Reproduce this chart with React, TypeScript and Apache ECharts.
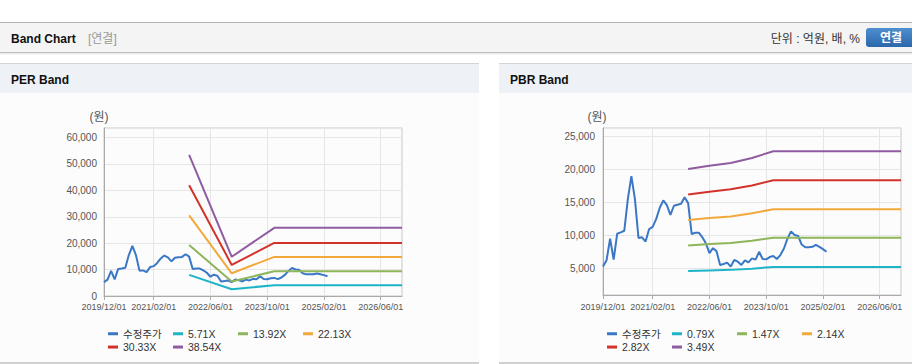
import React, { useEffect, useRef } from "react";
import * as echarts from "echarts";

// ---- data ----
const MONTHS: string[] = (() => {
  const out: string[] = [];
  for (let i = 0; i <= 84; i++) {
    const t = 2019 * 12 + 11 + i;
    const y = Math.floor(t / 12);
    const m = (t % 12) + 1;
    out.push(`${y}/${String(m).padStart(2, "0")}/01`);
  }
  return out;
})();

const X_TICK_LABELS = ["2019/12/01", "2021/02/01", "2022/06/01", "2023/10/01", "2025/02/01", "2026/06/01"];

// 수정주가, monthly from 2019/12
const PRICE = [
  5250, 6200, 9500, 6300, 10250, 10450, 10700, 15500, 19000, 15500,
  9600, 9700, 9050, 10950, 11300, 12500, 14200, 15300, 14600, 13100,
  14500, 14650, 14800, 15800, 14900, 10200, 10400, 10400, 9700, 8800,
  7300, 8050, 7600, 5500, 5650, 5850, 5250, 6250, 6000, 5500,
  6200, 5900, 6500, 6300, 7500, 6400, 6350, 6700, 6850, 6400,
  7000, 8000, 9500, 10600, 10050, 9900, 8600, 8200, 8200, 8250,
  8550, 8250, 7900, 7500,
];

const PER_NAMES = ["5.71X", "13.92X", "22.13X", "30.33X", "38.54X"];
const PER_MONTHS = ["2021/12/01", "2022/12/01", "2023/12/01", "2026/12/01"];
const PER_571 = [8000, 2550, 4100, 4100];
const PER_1392 = [19300, 5500, 9350, 9350];
const PER_2213 = [30500, 8600, 14800, 14800];
const PER_3033 = [41900, 11750, 20100, 20100];
const PER_3854 = [53400, 14850, 25800, 25800];

const PBR_NAMES = ["0.79X", "1.47X", "2.14X", "2.82X", "3.49X"];
const PBR_MONTHS = ["2021/12/01", "2022/06/01", "2022/12/01", "2023/06/01", "2023/12/01", "2026/12/01"];
const PBR_079 = [4570, 4660, 4750, 4930, 5200, 5200];
const PBR_147 = [8450, 8680, 8850, 9170, 9650, 9650];
const PBR_214 = [12340, 12630, 12880, 13350, 13980, 13980];
const PBR_282 = [16200, 16640, 17000, 17590, 18380, 18380];
const PBR_349 = [20090, 20590, 21000, 21770, 22780, 22780];

const PRICE_NAME = "수정주가";
const COLORS = ["#3a78c6", "#1db4c8", "#8db55a", "#f2a93c", "#d3322b", "#8f5ba1"];

const FONT = "'Liberation Sans', Arial, 'Noto Sans CJK KR', sans-serif";

const isTick = (_i: number, v: string) => X_TICK_LABELS.includes(v);
const fmt = (v: number) => Math.round(v).toLocaleString("en-US");

function xAxis(gridIndex: number, margin: number) {
  return {
    type: "category",
    gridIndex,
    data: MONTHS,
    boundaryGap: false,
    axisLine: { show: true, lineStyle: { color: "#aaaaaa" } },
    axisTick: { show: true, interval: isTick, length: 4, lineStyle: { color: "#aaaaaa" } },
    axisLabel: { interval: isTick, fontSize: 9, color: "#555", margin, fontFamily: FONT },
    splitLine: { show: true, interval: isTick, lineStyle: { color: "#e6e6e6" } },
  };
}

function bandSeries(names: string[], months: string[], values: number[][], axisIndex: number) {
  return names.map((n, i) => ({
    type: "line",
    name: n,
    xAxisIndex: axisIndex,
    yAxisIndex: axisIndex,
    data: months.map((m, j) => [m, values[i][j]]),
    showSymbol: false,
    symbol: "none",
    color: COLORS[i + 1],
    lineStyle: { width: 2, color: COLORS[i + 1] },
  }));
}

function legends(names: string[], left0: number, top0: number) {
  return names.map((n, i) => ({
    data: [n],
    left: left0 + (i % 4) * 65,
    top: top0 + Math.floor(i / 4) * 13.3,
    padding: 0,
    itemGap: 0,
    itemWidth: 10,
    itemHeight: 3,
    icon: "rect",
    textStyle: { fontSize: 10.5, color: "#333", fontFamily: FONT },
  }));
}

export default function App() {
  const ref = useRef<HTMLDivElement>(null);

  useEffect(() => {
    if (!ref.current) return;
    const chart = echarts.init(ref.current, null, { renderer: "svg" });
    const option: any = {
      animation: false,
      backgroundColor: "transparent",
      textStyle: { fontFamily: FONT },
      grid: [
        { left: 104, top: 128, width: 298, height: 168, show: true, borderColor: "#c8c8c8", borderWidth: 1 },
        { left: 603, top: 128, width: 298, height: 167, show: true, borderColor: "#c8c8c8", borderWidth: 1 },
      ],
      xAxis: [xAxis(0, 6), xAxis(1, 7)],
      yAxis: [
        {
          type: "value",
          gridIndex: 0,
          min: 0,
          max: 63600,
          interval: 10000,
          name: "(원)",
          nameLocation: "end",
          nameGap: 5,
          nameTextStyle: { color: "#555", fontSize: 12, padding: [0, 10, 0, 0], fontFamily: FONT },
          axisLine: { show: true, lineStyle: { color: "#aaaaaa" } },
          axisTick: { show: false },
          axisLabel: { color: "#555", fontSize: 10, margin: 7, formatter: fmt, showMaxLabel: false, fontFamily: FONT },
          splitLine: { show: true, lineStyle: { color: "#e6e6e6" } },
        },
        {
          type: "value",
          gridIndex: 1,
          min: 930,
          max: 26320,
          splitNumber: 5,
          name: "(원)",
          nameLocation: "end",
          nameGap: 5,
          nameTextStyle: { color: "#555", fontSize: 12, padding: [0, 12, 0, 0], fontFamily: FONT },
          axisLine: { show: true, lineStyle: { color: "#aaaaaa" } },
          axisTick: { show: false },
          axisLabel: {
            color: "#555",
            fontSize: 10,
            margin: 8,
            formatter: fmt,
            showMaxLabel: false,
            showMinLabel: false,
            fontFamily: FONT,
          },
          splitLine: { show: true, lineStyle: { color: "#e6e6e6" } },
        },
      ],
      legend: [
        ...legends([PRICE_NAME, ...PER_NAMES], 108, 328.5),
        ...legends([PRICE_NAME, ...PBR_NAMES], 607, 328.5),
      ],
      series: [
        {
          type: "line",
          name: PRICE_NAME,
          xAxisIndex: 0,
          yAxisIndex: 0,
          data: PRICE,
          showSymbol: false,
          symbol: "none",
          color: COLORS[0],
          lineStyle: { width: 2, color: COLORS[0] },
        },
        ...bandSeries(PER_NAMES, PER_MONTHS, [PER_571, PER_1392, PER_2213, PER_3033, PER_3854], 0),
        {
          type: "line",
          name: PRICE_NAME,
          xAxisIndex: 1,
          yAxisIndex: 1,
          data: PRICE,
          showSymbol: false,
          symbol: "none",
          color: COLORS[0],
          lineStyle: { width: 2, color: COLORS[0] },
        },
        ...bandSeries(PBR_NAMES, PBR_MONTHS, [PBR_079, PBR_147, PBR_214, PBR_282, PBR_349], 1),
      ],
      graphic: [
        { type: "text", x: 11, y: 38.5, style: { text: "Band Chart", font: `bold 12px ${FONT}`, fill: "#111", verticalAlign: "middle" } },
        { type: "text", x: 88, y: 38.5, style: { text: "[연결]", font: `12px ${FONT}`, fill: "#999", verticalAlign: "middle" } },
        { type: "text", x: 860, y: 39, style: { text: "단위 : 억원, 배, %", font: `12px ${FONT}`, fill: "#333", align: "right", verticalAlign: "middle" } },
        { type: "text", x: 891, y: 38, style: { text: "연결", font: `bold 12px ${FONT}`, fill: "#ffffff", align: "center", verticalAlign: "middle" } },
        { type: "text", x: 11, y: 80, style: { text: "PER Band", font: `bold 12px ${FONT}`, fill: "#111", verticalAlign: "middle" } },
        { type: "text", x: 510, y: 80, style: { text: "PBR Band", font: `bold 12px ${FONT}`, fill: "#111", verticalAlign: "middle" } },
      ],
    };
    chart.setOption(option);
    return () => chart.dispose();
  }, []);

  const abs = (s: React.CSSProperties): React.CSSProperties => ({ position: "absolute", ...s });

  return (
    <div style={{ position: "fixed", left: 0, top: 0, width: 912, height: 364, background: "#fff", overflow: "hidden" }}>
      <div style={abs({ left: 0, top: 22, width: 912, height: 1, background: "#b5b5b5" })} />
      <div style={abs({ left: 0, top: 23, width: 912, height: 29, background: "#f4f4f4" })} />
      <div style={abs({ left: 0, top: 52, width: 912, height: 1, background: "#c2c2c2" })} />
      <div style={abs({ left: 0, top: 53, width: 912, height: 2, background: "linear-gradient(#e2e2e2, #ffffff)" })} />
      <div style={abs({ left: 866, top: 28, width: 52, height: 19, borderRadius: 3, background: "linear-gradient(#4f8ecf, #2b67ab)" })} />

      <div style={abs({ left: 0, top: 63, width: 479, height: 1, background: "#d3d3d3" })} />
      <div style={abs({ left: 0, top: 64, width: 479, height: 29, background: "#eef2f7" })} />
      <div style={abs({ left: 0, top: 93, width: 479, height: 269, background: "#fcfcfc" })} />
      <div style={abs({ left: 0, top: 362, width: 479, height: 2, background: "#d0d0d0" })} />

      <div style={abs({ left: 499, top: 63, width: 413, height: 1, background: "#d3d3d3" })} />
      <div style={abs({ left: 499, top: 64, width: 413, height: 29, background: "#eef2f7" })} />
      <div style={abs({ left: 499, top: 93, width: 413, height: 269, background: "#fcfcfc" })} />
      <div style={abs({ left: 499, top: 362, width: 413, height: 2, background: "#d0d0d0" })} />

      <div ref={ref} style={abs({ left: 0, top: 0, width: 912, height: 364 })} />
    </div>
  );
}
